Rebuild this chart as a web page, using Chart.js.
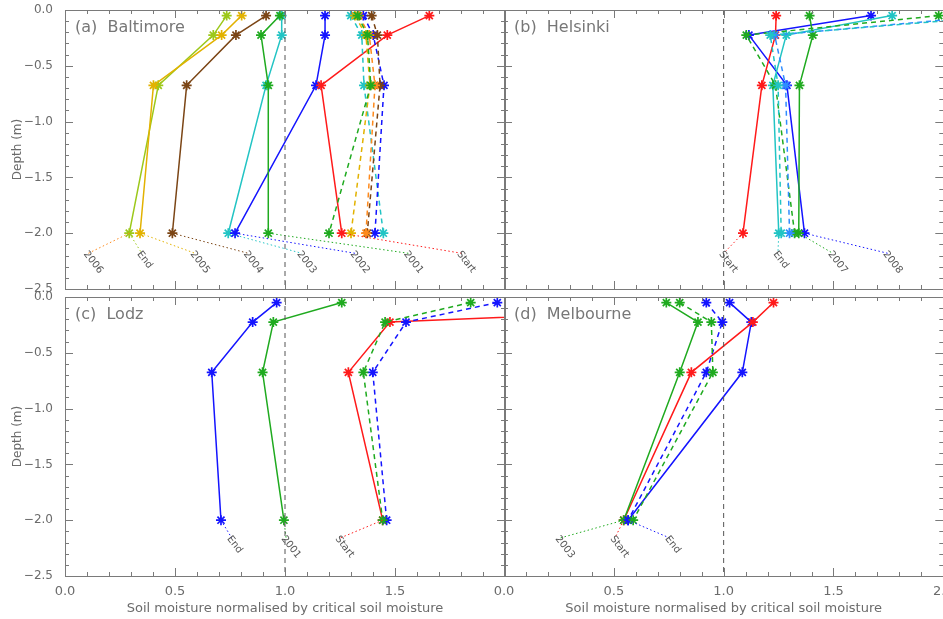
<!DOCTYPE html>
<html><head><meta charset="utf-8">
<script src="https://cdn.jsdelivr.net/npm/chart.js@4.4.1/dist/chart.umd.min.js"></script>
<style>
html,body{margin:0;padding:0;background:#fff;overflow:hidden;width:943px;height:619px;position:relative;}
canvas{position:absolute;left:0;top:0;}
</style></head><body>
<canvas id="pa" width="950" height="619"></canvas>
<canvas id="pb" width="950" height="619"></canvas>
<canvas id="pc" width="950" height="619"></canvas>
<canvas id="pd" width="950" height="619"></canvas>
<script>
// ---------- shared ----------
const depths = [-0.05, -0.225, -0.675, -2.0];
const xTickValues = [0, 0.5, 1.0, 1.5, 2.0];
const yTickValues = [0, -0.5, -1.0, -1.5, -2.0, -2.5];
const criticalX = [1.0, 1.0];
const criticalDepth = [0, -2.5];
const xTitle = 'Soil moisture normalised by critical soil moisture';
const yTitle = 'Depth (m)';

const cRed = '#ff1a1a', cGreen = '#1faa1f', cBlue = '#1414ff', cCyan = '#22c4c4',
      cBrown = '#7b4515', cGold = '#e2b200', cOrange = '#ff8a1c', cYG = '#9cc81a';

// ---------- (a) Baltimore ----------
const baltRedSolid   = [1.656, 1.465, 1.164, 1.258];
const baltGreenSolid = [0.977, 0.891, 0.924, 0.924];
const baltBlueSolid  = [1.182, 1.182, 1.141, 0.773];
const baltCyanSolid  = [0.985, 0.985, 0.914, 0.742];
const baltBrownSolid = [0.914, 0.777, 0.553, 0.488];
const baltGoldSolid  = [0.803, 0.712, 0.402, 0.341];
const baltYGSolid    = [0.735, 0.674, 0.424, 0.292];
const baltGreenDash  = [1.330, 1.375, 1.390, 1.200];
const baltGoldDash   = [1.318, 1.368, 1.386, 1.300];
const baltOrangeDash = [1.336, 1.383, 1.409, 1.368];
const baltBrownDash  = [1.394, 1.420, 1.432, 1.374];
const baltBlueDash   = [1.356, 1.401, 1.450, 1.409];
const baltCyanDash   = [1.299, 1.349, 1.359, 1.447];
const baltLabels      = ['2006', 'End', '2005', '2004', '2003', '2002', '2001', 'Start'];
const baltLabelX      = [0.106, 0.349, 0.591, 0.833, 1.076, 1.318, 1.561, 1.803];
const baltLabelTarget = [0.292, 0.292, 0.341, 0.488, 0.742, 0.773, 0.924, 1.258];
const baltLabelDepth  = -2.18;

// ---------- (b) Helsinki ----------
const helRedSolid   = [1.239, 1.236, 1.174, 1.088];
const helGreenSolid = [1.391, 1.406, 1.345, 1.342];
const helBlueSolid  = [1.671, 1.115, 1.288, 1.368];
const helCyanSolid  = [1.767, 1.285, 1.224, 1.251];
const helGreenDash  = [1.979, 1.103, 1.236, 1.323];
const helBlueDash   = [2.230, 1.232, 1.282, 1.300];
const helCyanDash   = [2.300, 1.212, 1.248, 1.262];
const helLabels      = ['Start', 'End', '2007', '2008'];
const helLabelX      = [1.000, 1.247, 1.497, 1.747];
const helLabelTarget = [1.088, 1.251, 1.342, 1.368];
const helLabelDepth  = -2.18;

// ---------- (c) Lodz ----------
const lodBlueSolid  = [0.962, 0.853, 0.667, 0.709];
const lodGreenSolid = [1.258, 0.947, 0.898, 0.995];
const lodRedSolid   = [3.600, 1.477, 1.288, 1.444];
const lodGreenDash  = [1.844, 1.455, 1.356, 1.444];
const lodBlueDash   = [1.965, 1.550, 1.399, 1.462];
const lodLabels      = ['End', '2001', 'Start'];
const lodLabelX      = [0.758, 1.005, 1.250];
const lodLabelTarget = [0.709, 0.995, 1.444];
const lodLabelDepth  = -2.16;

// ---------- (d) Melbourne ----------
const melGreenSolid = [0.739, 0.883, 0.800, 0.545];
const melRedSolid   = [1.227, 1.133, 0.853, 0.545];
const melBlueSolid  = [1.027, 1.126, 1.085, 0.565];
const melBlueDash   = [0.921, 0.994, 0.921, 0.565];
const melGreenDash  = [0.800, 0.944, 0.951, 0.588];
const melLabels      = ['2003', 'Start', 'End'];
const melLabelX      = [0.255, 0.505, 0.755];
const melLabelTarget = [0.545, 0.545, 0.565];
const melLabelDepth  = -2.16;

// ---------- builders ----------
function profile(values, color, dashed) {
  return {
    data: values.map((v, i) => ({x: v, y: depths[i]})),
    borderColor: color, backgroundColor: color,
    borderWidth: 1.5, borderDash: dashed ? [5, 4] : [],
    pointStyle: 'star', pointRadius: 5, pointBorderWidth: 1.7,
    pointBorderColor: color, pointBackgroundColor: color,
    showLine: true, tension: 0
  };
}
function leaders(labelsX, targets, depth, colors) {
  return labelsX.map((lx, i) => ({
    data: [{x: targets[i], y: depths[3]}, {x: lx, y: depth}],
    borderColor: colors[i], borderWidth: 1, borderDash: [1.5, 2.5],
    pointRadius: 0, showLine: true
  }));
}
function critical() {
  return {
    data: criticalX.map((v, i) => ({x: v, y: criticalDepth[i]})),
    borderColor: '#555', borderWidth: 1, borderDash: [5, 4], pointRadius: 0, showLine: true
  };
}

const TXT = '#6b6b6b';
const FONT = 'DejaVu Sans';

const framePlugin = {
  id: 'frame',
  afterDatasetsDraw(chart, args, opts) {
    const {ctx, chartArea: a, scales: {x, y}} = chart;
    ctx.save();
    ctx.strokeStyle = '#7a7a7a';
    ctx.lineWidth = 1;
    ctx.setLineDash([]);
    ctx.strokeRect(Math.round(a.left) + 0.5, Math.round(a.top) + 0.5,
                   Math.round(a.right - a.left), Math.round(a.bottom - a.top));
    ctx.beginPath();
    for (let k = 0; k <= 20; k++) {
      const px = Math.round(x.getPixelForValue(k / 10)) + 0.5;
      const L = (k % 5 === 0) ? 8 : 4;
      ctx.moveTo(px, a.bottom); ctx.lineTo(px, a.bottom - L);
      ctx.moveTo(px, a.top); ctx.lineTo(px, a.top + L);
    }
    for (let k = 0; k <= 25; k++) {
      const py = Math.round(y.getPixelForValue(-k / 10)) + 0.5;
      const L = (k % 5 === 0) ? 8 : 4;
      ctx.moveTo(a.left, py); ctx.lineTo(a.left + L, py);
      ctx.moveTo(a.right, py); ctx.lineTo(a.right - L, py);
    }
    ctx.stroke();
    // panel title
    ctx.fillStyle = '#777';
    ctx.font = `16px "${FONT}"`;
    ctx.textBaseline = 'middle';
    ctx.textAlign = 'left';
    ctx.fillText(opts.title, a.left + 10, a.top + 18);
    // leader labels
    ctx.fillStyle = '#555';
    ctx.font = `10px "${FONT}"`;
    ctx.textBaseline = 'top';
    opts.labels.forEach((t, i) => {
      const px = x.getPixelForValue(opts.xs[i]);
      const py = y.getPixelForValue(opts.depth);
      ctx.save();
      ctx.translate(px + 1, py - 4);
      ctx.rotate(52 * Math.PI / 180);
      ctx.fillText(t, 0, 0);
      ctx.restore();
    });
    ctx.restore();
  }
};

const W = 950, H = 619;
function noPad(s) { s.paddingLeft = 0; s.paddingRight = 0; s.paddingTop = 0; s.paddingBottom = 0; }
function panel(id, area, datasets, textOpts) {
  const {left, right, top, bottom, showX, showY, hide2} = area;
  const wy = showY ? left : 0;
  const hx = showX ? H - bottom : 0;
  new Chart(document.getElementById(id), {
    type: 'scatter',
    data: {datasets},
    options: {
      responsive: false, animation: false, devicePixelRatio: 1,
      layout: {padding: {left: left - wy, right: W - right, top: top, bottom: H - bottom - hx}},
      plugins: {legend: {display: false}, tooltip: {enabled: false}, frame: textOpts},
      scales: {
        x: {
          type: 'linear', min: 0, max: 2,
          afterFit: s => { s.height = hx; noPad(s); },
          afterBuildTicks: s => { s.ticks = xTickValues.map(v => ({value: v})); },
          ticks: {display: showX, padding: 8, color: TXT, font: {family: FONT, size: 13},
                  maxRotation: 0, autoSkip: false,
                  callback: v => (hide2 && v === 2) ? '' : v.toFixed(1)},
          grid: {display: false, drawTicks: false}, border: {display: false},
          title: {display: showX, text: xTitle, color: TXT, font: {family: FONT, size: 13}, padding: {top: 0, bottom: 3}}
        },
        y: {
          type: 'linear', min: -2.5, max: 0,
          afterFit: s => { s.width = wy; noPad(s); },
          afterBuildTicks: s => { s.ticks = yTickValues.map(v => ({value: v})); },
          ticks: {display: showY, padding: 12, color: TXT, font: {family: FONT, size: 12}, autoSkip: false,
                  callback: v => (v < 0 ? '\u2212' + Math.abs(v).toFixed(1) : '0.0')},
          grid: {display: false, drawTicks: false}, border: {display: false},
          title: {display: showY, text: yTitle, color: TXT, font: {family: FONT, size: 12}, padding: {top: 11, bottom: 0}}
        }
      }
    },
    plugins: [framePlugin]
  });
}

// (a)
panel('pa', {left: 65, right: 505, top: 10, bottom: 289, showX: false, showY: true}, [
  critical(),
  ...leaders(baltLabelX, baltLabelTarget, baltLabelDepth, [cOrange, cYG, cGold, cBrown, cCyan, cBlue, cGreen, cRed]),
  profile(baltGreenDash, cGreen, true),
  profile(baltGoldDash, cGold, true),
  profile(baltOrangeDash, cOrange, true),
  profile(baltBrownDash, cBrown, true),
  profile(baltBlueDash, cBlue, true),
  profile(baltCyanDash, cCyan, true),
  profile(baltRedSolid, cRed, false),
  profile(baltGreenSolid, cGreen, false),
  profile(baltBlueSolid, cBlue, false),
  profile(baltCyanSolid, cCyan, false),
  profile(baltBrownSolid, cBrown, false),
  profile(baltGoldSolid, cGold, false),
  profile(baltYGSolid, cYG, false)
], {title: '(a)  Baltimore', labels: baltLabels, xs: baltLabelX, depth: baltLabelDepth});

// (b)
panel('pb', {left: 504, right: 944, top: 10, bottom: 289, showX: false, showY: false}, [
  critical(),
  ...leaders(helLabelX, helLabelTarget, helLabelDepth, [cRed, cCyan, cGreen, cBlue]),
  profile(helCyanDash, cCyan, true),
  profile(helBlueDash, '#2f8cff', true),
  profile(helGreenDash, cGreen, true),
  profile(helRedSolid, cRed, false),
  profile(helGreenSolid, cGreen, false),
  profile(helCyanSolid, cCyan, false),
  profile(helBlueSolid, cBlue, false)
], {title: '(b)  Helsinki', labels: helLabels, xs: helLabelX, depth: helLabelDepth});

// (c)
panel('pc', {left: 65, right: 505, top: 297, bottom: 576, showX: true, showY: true, hide2: true}, [
  critical(),
  ...leaders(lodLabelX, lodLabelTarget, lodLabelDepth, [cBlue, cGreen, cRed]),
  profile(lodGreenDash, cGreen, true),
  profile(lodBlueDash, cBlue, true),
  profile(lodRedSolid, cRed, false),
  profile(lodGreenSolid, cGreen, false),
  profile(lodBlueSolid, cBlue, false)
], {title: '(c)  Lodz', labels: lodLabels, xs: lodLabelX, depth: lodLabelDepth});

// (d)
panel('pd', {left: 504, right: 944, top: 297, bottom: 576, showX: true, showY: false}, [
  critical(),
  ...leaders(melLabelX, melLabelTarget, melLabelDepth, [cGreen, cRed, cBlue]),
  profile(melGreenDash, cGreen, true),
  profile(melBlueDash, cBlue, true),
  profile(melGreenSolid, cGreen, false),
  profile(melRedSolid, cRed, false),
  profile(melBlueSolid, cBlue, false)
], {title: '(d)  Melbourne', labels: melLabels, xs: melLabelX, depth: melLabelDepth});
</script>
</body></html>
